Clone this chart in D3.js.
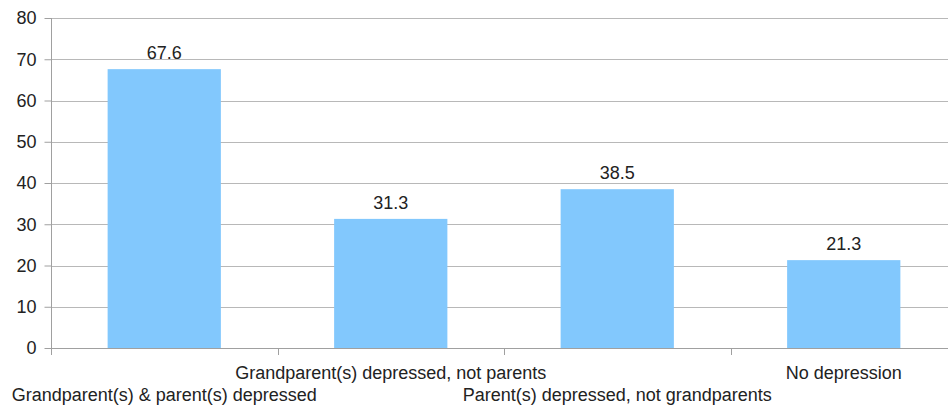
<!DOCTYPE html>
<html>
<head>
<meta charset="utf-8">
<script src="https://cdn.jsdelivr.net/npm/d3@7"></script>
<style>
  html, body { margin: 0; padding: 0; background: #fff; }
  svg { display: block; }
  text { font-family: "Liberation Sans", Arial, sans-serif; fill: #222; }
</style>
</head>
<body>
<svg id="chart" width="948" height="407"></svg>
<script>
// Percentage of grandchildren with depression, by family history
const categories = [
  "Grandparent(s) & parent(s) depressed",
  "Grandparent(s) depressed, not parents",
  "Parent(s) depressed, not grandparents",
  "No depression"
];
const values = [67.6, 31.3, 38.5, 21.3];
const yTicks = [0, 10, 20, 30, 40, 50, 60, 70, 80];

const svg = d3.select("#chart");
const margin = { left: 51, top: 18, bottom: 59 };
const plotW = 906; // four bands of ~226.5px
const height = 407;
const fontSize = 18;

const x = d3.scaleBand()
  .domain(categories)
  .range([margin.left, margin.left + plotW])
  .paddingInner(0.5)
  .paddingOuter(0.25);

const y = d3.scaleLinear()
  .domain([0, 80])
  .range([height - margin.bottom, margin.top]);

// Horizontal gridlines
svg.append("g")
  .selectAll("line")
  .data(yTicks)
  .join("line")
  .attr("x1", margin.left)
  .attr("x2", 948)
  .attr("y1", d => Math.round(y(d)) + 0.5)
  .attr("y2", d => Math.round(y(d)) + 0.5)
  .attr("stroke", "#b8b8b8")
  .attr("stroke-width", 1);

// Bars
svg.append("g")
  .selectAll("rect")
  .data(values)
  .join("rect")
  .attr("x", (d, i) => x(categories[i]))
  .attr("width", x.bandwidth())
  .attr("y", d => y(d))
  .attr("height", d => y(0) - y(d))
  .attr("fill", "#82c8fd");

// Value labels
svg.append("g")
  .selectAll("text")
  .data(values)
  .join("text")
  .attr("x", (d, i) => x(categories[i]) + x.bandwidth() / 2)
  .attr("y", d => y(d) - 10)
  .attr("text-anchor", "middle")
  .attr("font-size", fontSize)
  .text(d => d.toFixed(1));

// Y axis
const yAxis = d3.axisLeft(y).tickValues(yTicks).tickSize(7).tickPadding(8);
const gy = svg.append("g")
  .attr("transform", `translate(${margin.left + 0.5},0)`)
  .call(yAxis);
gy.select(".domain").remove();
gy.append("line")
  .attr("x1", 0).attr("x2", 0)
  .attr("y1", y(80)).attr("y2", y(0) + 7)
  .attr("stroke", "#a0a0a0");
gy.selectAll(".tick line").attr("stroke", "#a0a0a0");
gy.selectAll(".tick text")
  .attr("font-size", fontSize)
  .attr("font-family", "Liberation Sans, Arial, sans-serif")
  .attr("fill", "#222");

// X axis line and band-boundary ticks
const step = x.step();
const boundaries = d3.range(categories.length + 1).map(i => margin.left + i * step);
const gx = svg.append("g");
gx.append("line")
  .attr("x1", margin.left).attr("x2", 948)
  .attr("y1", Math.round(y(0)) + 0.5).attr("y2", Math.round(y(0)) + 0.5)
  .attr("stroke", "#a0a0a0");
gx.selectAll("line.bt")
  .data(boundaries.slice(1))
  .join("line")
  .attr("class", "bt")
  .attr("x1", d => Math.round(d) + 0.5).attr("x2", d => Math.round(d) + 0.5)
  .attr("y1", y(0)).attr("y2", y(0) + 7)
  .attr("stroke", "#a0a0a0");

// Category labels, staggered on two rows
gx.selectAll("text")
  .data(categories)
  .join("text")
  .attr("x", d => x(d) + x.bandwidth() / 2)
  .attr("y", (d, i) => i % 2 === 0 ? 401 : 379)
  .attr("text-anchor", "middle")
  .attr("font-size", fontSize)
  .text(d => d);
</script>
</body>
</html>
